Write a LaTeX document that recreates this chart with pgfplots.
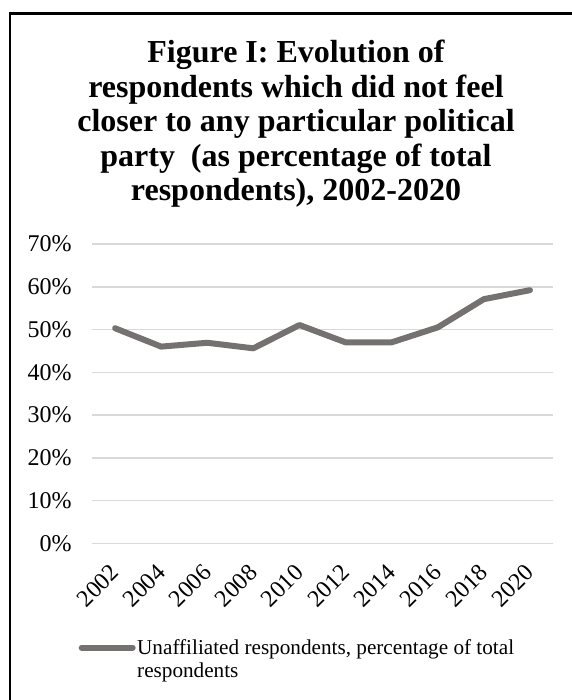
\documentclass[border=0pt]{standalone}
\usepackage{fontspec}
\setmainfont{Liberation Serif}
\usepackage{pgfplots}
\pgfplotsset{compat=1.18}
\definecolor{linegray}{RGB}{118,113,113}
\definecolor{gridgray}{RGB}{217,217,217}
\begin{document}
\begin{tikzpicture}
\useasboundingbox (0pt,0pt) rectangle (571pt,700pt);
\draw[line width=2.7pt] (10pt,-20pt) -- (10pt,686.5pt) -- (600pt,686.5pt);
\node[font=\fontsize{32}{34.5}\selectfont\bfseries, align=center, anchor=north, inner sep=0pt] at (296pt,660pt)
  {Figure I: Evolution of\\respondents which did not feel\\closer to any particular political\\party\ \ (as percentage of total\\respondents), 2002-2020};
\begin{axis}[
  at={(92pt,156.7pt)}, anchor=south west,
  scale only axis, width=461pt, height=299.3pt,
  xmin=-0.5, xmax=9.5, ymin=0, ymax=70,
  axis line style={draw=none},
  major tick length=0pt,
  ymajorgrids, grid style={gridgray, line width=1.5pt},
  ytick={0,10,20,30,40,50,60,70},
  yticklabels={0\%,10\%,20\%,30\%,40\%,50\%,60\%,70\%},
  yticklabel style={font=\fontsize{24}{28}\selectfont, anchor=east, inner sep=0pt, xshift=-20.3pt},
  xtick={0,1,2,3,4,5,6,7,8,9},
  xticklabels={2002,2004,2006,2008,2010,2012,2014,2016,2018,2020},
  xticklabel style={font=\fontsize{24}{28}\selectfont, yshift=-25.5pt, rotate=45, anchor=east, inner sep=0pt},
  legend style={at={(-0.0293,-0.3866)}, anchor=west, draw=none, fill=none, inner sep=0pt,
    font=\fontsize{21.2}{23}\selectfont, cells={align=left}, nodes={inner sep=1.5pt}},
  legend image code/.code={\path[draw=none, fill=none] (0pt,-14.5pt) rectangle (1pt,14.5pt);
    \draw[#1, line width=6pt, line cap=round] (3pt,11.5pt) -- (54pt,11.5pt);},
]
\addplot[linegray, line width=6pt, line join=round, line cap=round] coordinates {
  (0,50.3) (1,46.0) (2,46.9) (3,45.6) (4,51.05) (5,47.0) (6,47.0) (7,50.5) (8,57.1) (9,59.2)
};
\addlegendentry{Unaffiliated respondents, percentage of total\\respondents}
\end{axis}
\end{tikzpicture}
\end{document}
